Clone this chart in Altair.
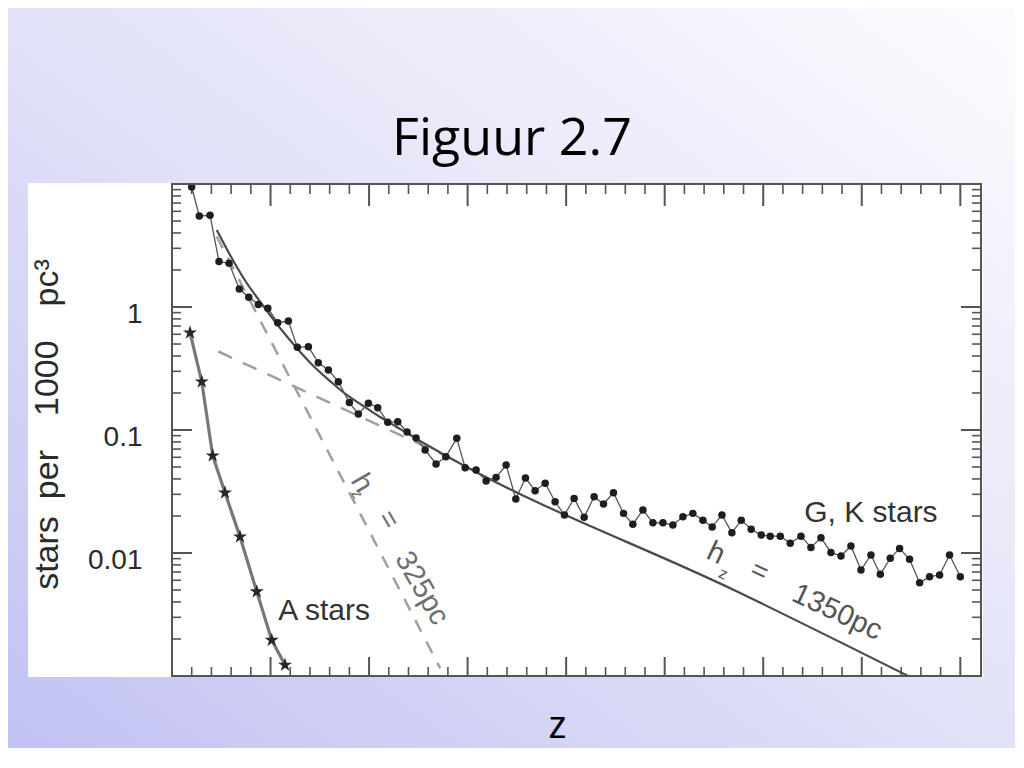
import altair as alt
import pandas as pd

# ---------------- data ----------------
# G, K stars: height z (axis units) and density (stars per 1000 pc^3)
gk_z = [0.200, 0.277, 0.386, 0.477, 0.579, 0.683, 0.779, 0.876, 0.972, 1.073,
        1.181, 1.272, 1.384, 1.485, 1.587, 1.688, 1.800, 1.891, 1.993, 2.088,
        2.190, 2.291, 2.386, 2.477, 2.569, 2.680, 2.779, 2.890, 2.975, 3.086,
        3.188, 3.289, 3.391, 3.489, 3.587, 3.685, 3.787, 3.888, 3.983, 4.081,
        4.183, 4.284, 4.379, 4.480, 4.582, 4.677, 4.779, 4.880, 4.982, 5.083,
        5.185, 5.286, 5.388, 5.482, 5.581, 5.682, 5.777, 5.878, 5.980, 6.071,
        6.173, 6.274, 6.383, 6.484, 6.586, 6.687, 6.789, 6.890, 6.992, 7.093,
        7.188, 7.289, 7.384, 7.485, 7.587, 7.688, 7.790, 7.891, 8.000]
gk_n = [9.45, 5.49, 5.57, 2.34, 2.27, 1.40, 1.20, 1.05, 0.976, 0.745,
        0.769, 0.470, 0.476, 0.352, 0.307, 0.247, 0.167, 0.135, 0.165, 0.152,
        0.1155, 0.1168, 0.0963, 0.0861, 0.0688, 0.0529, 0.0607, 0.0856, 0.0494, 0.0473,
        0.0385, 0.0412, 0.0519, 0.0275, 0.0407, 0.0321, 0.0369, 0.0261, 0.0204, 0.0278,
        0.0195, 0.0287, 0.0250, 0.0309, 0.0210, 0.0171, 0.0224, 0.0176, 0.0176, 0.0169,
        0.0197, 0.0210, 0.0185, 0.0163, 0.0204, 0.0146, 0.0185, 0.0156, 0.0140, 0.0137,
        0.0137, 0.0120, 0.0137, 0.0111, 0.0133, 0.0101, 0.00945, 0.0114, 0.00727, 0.00963,
        0.00671, 0.00905, 0.0109, 0.00889, 0.00573, 0.00642, 0.00662, 0.00963, 0.00642]

# A stars
a_z = [0.183, 0.302, 0.413, 0.538, 0.690, 0.860, 1.012, 1.147]
a_n = [0.618, 0.247, 0.0618, 0.0309, 0.01357, 0.00485, 0.00196, 0.00123]

# two-component fit (solid) and its components (dashed)
fit_z = [0.454, 0.589, 0.758, 0.927, 1.096, 1.266, 1.435, 1.604, 1.774, 1.942,
         2.112, 2.281, 2.518, 2.822, 5.766, 7.492]
fit_n = [4.23, 2.65, 1.567, 1.019, 0.675, 0.464, 0.331, 0.250, 0.1926, 0.1567,
         0.1275, 0.1058, 0.0814, 0.0592, 0.00473, 0.000981]
thin_z = [0.454, 2.721]
thin_n = [3.74, 0.00116]
thick_z = [0.470, 2.822]
thick_n = [0.4347, 0.0592]

# axis ticks
y_major = [0.01, 0.1, 1]
y_minor = [k * 10.0 ** d for d in (-3, -2, -1, 0) for k in range(2, 10)]
x_major = [1, 2, 3, 4, 5, 6, 7, 8]
x_minor = [round(i * 0.2, 1) for i in range(1, 41) if i % 5 != 0]

# annotations
lab_text = ["A stars", "G, K stars"]
lab_z = [1.543, 7.093]
lab_n = [0.00285, 0.01786]

h1_text = ["h", "z", "=", "325pc"]
h1_z = [1.929, 1.878, 2.193, 2.538]
h1_n = [0.0371, 0.0302, 0.01853, 0.00519]
h1_size = [29, 16, 28, 29]

h2_text = ["h", "z", "=", "1350pc"]
h2_z = [5.523, 5.594, 5.959, 6.751]
h2_n = [0.0100, 0.00675, 0.00701, 0.00331]
h2_size = [29, 16, 28, 29]

# ---------------- layout ----------------
W, H = 809, 492
PAD = {"left": 164, "top": 176, "right": 34, "bottom": 72}

FONT = "Liberation Sans"

xs = alt.Scale(domain=[0, 8.21], nice=False, zero=False)
ys = alt.Scale(type="log", domain=[0.001, 10], nice=False)

xax = alt.Axis(labels=False, ticks=False, domain=False, grid=False,
               title="z", titleFont="Noto Sans", titleFontSize=38,
               titleFontWeight="normal", titleColor="#000000",
               titleX=385, titleY=61, titleBaseline="alphabetic",
               titleAlign="center", zindex=2)
yax = alt.Axis(values=y_major, format="~g", ticks=False, tickSize=0,
               domain=False, grid=False, labelFont=FONT, labelFontSize=28,
               labelColor="#2a2a2a", labelPadding=30, labelOffset=7,
               title="stars\u2002per\u2002\u20021000\u2003pc\u00b3",
               titleFont=FONT, titleFontSize=34, titleFontWeight="normal",
               titleColor="#2a2a2a", titleX=-125, titleY=240, titleAngle=270,
               titleBaseline="middle", titleAlign="center", zindex=2)

X = alt.X("z:Q", scale=xs, axis=xax)
Y = alt.Y("n:Q", scale=ys, axis=yax)

one = pd.DataFrame({"k": [0]})

gradient = {
    "gradient": "linear", "x1": 0, "y1": 1, "x2": 1, "y2": 0,
    "stops": [
        {"offset": 0.0, "color": "#c2c2f3"},
        {"offset": 0.5, "color": "#e2e2f8"},
        {"offset": 1.0, "color": "#fcfcff"},
    ],
}

bg = alt.Chart(one).mark_rect(fill=gradient).encode(
    x=alt.value(-PAD["left"]), x2=alt.value(W + PAD["right"]),
    y=alt.value(-PAD["top"]), y2=alt.value(H + PAD["bottom"]))

white = alt.Chart(one).mark_rect(fill="#ffffff").encode(
    x=alt.value(-144), x2=alt.value(W + 2),
    y=alt.value(-1), y2=alt.value(H + 1))

frame = alt.Chart(one).mark_rect(fillOpacity=0, stroke="#555555", strokeWidth=2).encode(
    x=alt.value(0), x2=alt.value(W), y=alt.value(0), y2=alt.value(H))

title = alt.Chart(pd.DataFrame({"t": ["Figuur 2.7"]})).mark_text(
    font="Open Sans", fontSize=52, color="#000000", align="center",
    baseline="alphabetic").encode(x=alt.value(340), y=alt.value(-29), text="t:N")

ymaj = pd.DataFrame({"n": y_major})
ymin = pd.DataFrame({"n": y_minor})
xmaj = pd.DataFrame({"z": x_major})
xmin = pd.DataFrame({"z": x_minor})

TC = "#555555"
ticks = [
    alt.Chart(ymaj).mark_rule(color=TC, strokeWidth=2).encode(y=Y, x=alt.value(0), x2=alt.value(20)),
    alt.Chart(ymin).mark_rule(color=TC, strokeWidth=1.6).encode(y=Y, x=alt.value(0), x2=alt.value(9)),
    alt.Chart(ymaj).mark_rule(color=TC, strokeWidth=2).encode(y=Y, x=alt.value(W), x2=alt.value(W - 20)),
    alt.Chart(ymin).mark_rule(color=TC, strokeWidth=1.6).encode(y=Y, x=alt.value(W), x2=alt.value(W - 9)),
    alt.Chart(xmaj).mark_rule(color=TC, strokeWidth=2).encode(x=X, y=alt.value(H), y2=alt.value(H - 19)),
    alt.Chart(xmin).mark_rule(color=TC, strokeWidth=1.6).encode(x=X, y=alt.value(H), y2=alt.value(H - 9)),
    alt.Chart(xmaj).mark_rule(color=TC, strokeWidth=2).encode(x=X, y=alt.value(0), y2=alt.value(22)),
    alt.Chart(xmin).mark_rule(color=TC, strokeWidth=1.6).encode(x=X, y=alt.value(0), y2=alt.value(10)),
]

thin_df = pd.DataFrame({"z": thin_z, "n": thin_n})
thick_df = pd.DataFrame({"z": thick_z, "n": thick_n})
fit_df = pd.DataFrame({"z": fit_z, "n": fit_n})
a_df = pd.DataFrame({"z": a_z, "n": a_n})
gk_df = pd.DataFrame({"z": gk_z, "n": gk_n})

thin_line = alt.Chart(thin_df).mark_line(color="#a0a0a0", strokeWidth=2.5,
                                         strokeDash=[13, 11], clip=True).encode(x=X, y=Y)
thick_line = alt.Chart(thick_df).mark_line(color="#a0a0a0", strokeWidth=2.5,
                                           strokeDash=[15, 12], clip=True).encode(x=X, y=Y)
fit_line = alt.Chart(fit_df).mark_line(color="#4a4a4a", strokeWidth=2.2,
                                       clip=True, interpolate="monotone").encode(x=X, y=Y)

STAR = ("M0,-1L0.2245,-0.309L0.951,-0.309L0.363,0.118L0.588,0.809L0,0.382"
        "L-0.588,0.809L-0.363,0.118L-0.951,-0.309L-0.2245,-0.309Z")
a_line = alt.Chart(a_df).mark_line(color="#777777", strokeWidth=3.2, clip=True).encode(x=X, y=Y)
a_pts = alt.Chart(a_df).mark_point(shape=STAR, filled=True, color="#262626",
                                   size=220, opacity=1, clip=True).encode(x=X, y=Y)

gk_line = alt.Chart(gk_df).mark_line(color="#555555", strokeWidth=1.3, clip=True).encode(x=X, y=Y)
gk_pts = alt.Chart(gk_df).mark_circle(color="#1e1e1e", size=56, opacity=1, clip=True).encode(x=X, y=Y)

lab_df = pd.DataFrame({"z": lab_z, "n": lab_n, "t": lab_text})
labels = alt.Chart(lab_df).mark_text(font=FONT, fontSize=30, color="#333333",
                                     align="center", baseline="alphabetic").encode(x=X, y=Y, text="t:N")

h1_df = pd.DataFrame({"z": h1_z, "n": h1_n, "t": h1_text, "s": h1_size})
h1 = alt.Chart(h1_df).mark_text(font=FONT, color="#6e6e6e", angle=60,
                                align="center", baseline="middle").encode(
    x=X, y=Y, text="t:N", size=alt.Size("s:Q", scale=None, legend=None))

h2_df = pd.DataFrame({"z": h2_z, "n": h2_n, "t": h2_text, "s": h2_size})
h2 = alt.Chart(h2_df).mark_text(font=FONT, color="#555555", angle=25,
                                align="center", baseline="middle").encode(
    x=X, y=Y, text="t:N", size=alt.Size("s:Q", scale=None, legend=None))

chart = alt.layer(
    bg, white, *ticks, thin_line, thick_line, fit_line,
    a_line, a_pts, gk_line, gk_pts, labels, h1, h2, frame, title,
).properties(
    width=W, height=H,
    padding=PAD,
    autosize=alt.AutoSizeParams(type="none"),
    background="#ffffff",
).configure_view(stroke=None)

chart.save("out.html", embed_options={"renderer": "svg", "actions": False})
